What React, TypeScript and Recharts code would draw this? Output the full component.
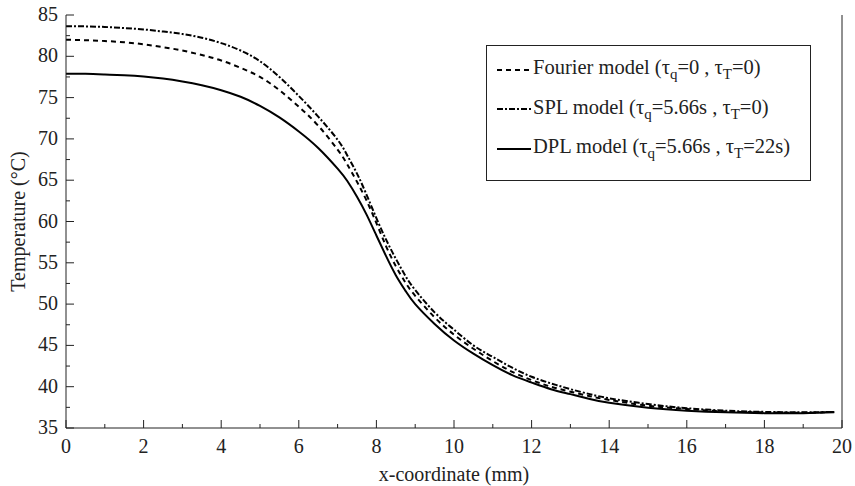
import React from "react"
import { LineChart, Line, XAxis, YAxis, Legend, Label } from "recharts"

// x positions (mm)
const xCoord = [0, 0.5, 1, 1.5, 2, 2.5, 3, 3.5, 4, 4.5, 5, 5.5, 6, 6.5, 7, 7.25, 7.5, 7.75, 8, 8.25, 8.5, 8.75, 9, 9.5, 10, 10.5, 11, 11.5, 12, 12.5, 13, 13.5, 14, 15, 16, 17, 18, 19, 19.8]

// temperatures (°C)
const fourierTemp = [82.0, 81.95, 81.85, 81.7, 81.45, 81.1, 80.7, 80.15, 79.5, 78.6, 77.5, 75.9, 73.9, 71.6, 68.7, 66.9, 64.8, 62.5, 59.8, 57.0, 54.6, 52.6, 51.0, 48.4, 46.3, 44.6, 43.1, 41.8, 40.8, 40.0, 39.4, 38.85, 38.4, 37.7, 37.3, 37.0, 36.9, 36.85, 36.95]
const splTemp = [83.65, 83.62, 83.55, 83.42, 83.25, 83.0, 82.7, 82.25, 81.6, 80.7, 79.4, 77.5, 75.2, 72.7, 69.9, 68.0, 65.8, 63.2, 60.4, 57.8, 55.5, 53.4, 51.7, 49.0, 46.9, 45.0, 43.6, 42.3, 41.2, 40.4, 39.7, 39.1, 38.6, 37.9, 37.4, 37.1, 36.95, 36.9, 36.95]
const dplTemp = [77.9, 77.88, 77.8, 77.7, 77.55, 77.3, 76.95, 76.5, 75.9, 75.1, 74.0, 72.6, 70.9, 68.9, 66.4, 64.9, 63.0, 60.8, 58.3, 55.8, 53.5, 51.6, 50.0, 47.6, 45.6, 44.0, 42.6, 41.4, 40.5, 39.7, 39.1, 38.5, 38.05, 37.45, 37.1, 36.9, 36.8, 36.8, 36.9]

const xTicks = [0, 1, 2, 3, 4, 5, 6, 7, 8, 9, 10, 11, 12, 13, 14, 15, 16, 17, 18, 19, 20]
const yTicks = [35, 37.5, 40, 42.5, 45, 47.5, 50, 52.5, 55, 57.5, 60, 62.5, 65, 67.5, 70, 72.5, 75, 77.5, 80, 82.5, 85]

const series = [
  { key: "fourier", label: "Fourier model", tauQ: "0", tauT: "0", dash: "5 4" },
  { key: "spl", label: "SPL model", tauQ: "5.66s", tauT: "0", dash: "6 2 2 2" },
  { key: "dpl", label: "DPL model", tauQ: "5.66s", tauT: "22s", dash: undefined },
]

const data = xCoord.map((x, i) => ({
  x,
  fourier: fourierTemp[i],
  spl: splTemp[i],
  dpl: dplTemp[i],
}))

const FONT = "'Liberation Serif', 'Times New Roman', serif"
const INK = "#222"
const txt = { fontFamily: FONT, fontSize: 20, fill: INK }

function BottomTick(props: any) {
  const { x, y, payload } = props
  const major = payload.value % 2 === 0
  return (
    <g>
      <line x1={x} x2={x} y1={y} y2={y - (major ? 8 : 4)} stroke={INK} />
      {major && (
        <text x={x} y={y + 25} textAnchor="middle" fontFamily={FONT} style={txt}>
          {payload.value}
        </text>
      )}
    </g>
  )
}

function TopTick(props: any) {
  const { x, y, payload } = props
  const major = payload.value % 2 === 0
  return <line x1={x} x2={x} y1={y} y2={y + (major ? 8 : 4)} stroke={INK} />
}

function LeftTick(props: any) {
  const { x, y, payload } = props
  const major = payload.value % 5 === 0
  return (
    <g>
      <line x1={x} x2={x + (major ? 8 : 4)} y1={y} y2={y} stroke={INK} />
      {major && (
        <text x={x - 8} y={y + 6} textAnchor="end" fontFamily={FONT} style={txt}>
          {payload.value}
        </text>
      )}
    </g>
  )
}

function RightTick(props: any) {
  const { x, y, payload } = props
  const major = payload.value % 5 === 0
  return <line x1={x} x2={x - (major ? 8 : 4)} y1={y} y2={y} stroke={INK} />
}

function ModelLegend() {
  return (
    <div
      style={{
        width: 323,
        height: 130,
        border: `1px solid ${INK}`,
        background: "#fff",
        fontFamily: FONT,
        fontSize: 20.5,
        color: INK,
        boxSizing: "content-box",
        paddingTop: 4,
      }}
    >
      {series.map((s) => (
        <div key={s.key} style={{ display: "flex", alignItems: "center", height: 39.5, paddingLeft: 10 }}>
          <svg width={34} height={6} style={{ marginRight: 2 }}>
            <line x1={0} x2={34} y1={3} y2={3} stroke="#000" strokeWidth={2} strokeDasharray={s.dash} />
          </svg>
          <span style={{ whiteSpace: "nowrap" }}>
            {s.label} (τ<sub style={{ fontSize: 15 }}>q</sub>={s.tauQ} , τ<sub style={{ fontSize: 15 }}>T</sub>={s.tauT})
          </span>
        </div>
      ))}
    </div>
  )
}

export default function App() {
  return (
    <div style={{ position: "absolute", left: 0, top: 0, background: "#fff" }}>
      <LineChart width={855} height={486} data={data} margin={{ top: 15, right: 12, bottom: 0, left: 0 }}>
        <XAxis
          xAxisId="bottom"
          dataKey="x"
          type="number"
          domain={[0, 20]}
          ticks={xTicks}
          interval={0}
          tickSize={0}
          tickMargin={0}
          tickLine={false}
          tick={<BottomTick />}
          height={58}
          axisLine={{ stroke: INK }}
        >
          <Label value="x-coordinate (mm)" position="insideBottom" offset={5} style={txt} />
        </XAxis>
        <XAxis
          xAxisId="top"
          orientation="top"
          dataKey="x"
          type="number"
          domain={[0, 20]}
          ticks={xTicks}
          interval={0}
          tickSize={0}
          tickMargin={0}
          tickLine={false}
          tick={<TopTick />}
          height={0}
          axisLine={{ stroke: INK }}
        />
        <YAxis
          yAxisId="left"
          type="number"
          domain={[35, 85]}
          ticks={yTicks}
          interval={0}
          tickSize={0}
          tickMargin={0}
          tickLine={false}
          tick={<LeftTick />}
          width={66}
          axisLine={{ stroke: INK }}
        >
          <Label value="Temperature (°C)" angle={-90} position="insideLeft" offset={18} style={{ ...txt, textAnchor: "middle" }} />
        </YAxis>
        <YAxis
          yAxisId="right"
          orientation="right"
          type="number"
          domain={[35, 85]}
          ticks={yTicks}
          interval={0}
          tickSize={0}
          tickMargin={0}
          tickLine={false}
          tick={<RightTick />}
          width={1}
          axisLine={{ stroke: INK }}
        />
        <Legend
          layout="vertical"
          align="center"
          verticalAlign="middle"
          content={() => <ModelLegend />}
          wrapperStyle={{ position: "absolute", left: 486, top: 45, width: "auto" }}
        />
        {series.map((s) => (
          <Line
            key={s.key}
            xAxisId="bottom"
            yAxisId="left"
            type="natural"
            dataKey={s.key}
            name={s.label}
            stroke="#000"
            strokeWidth={2}
            strokeDasharray={s.dash}
            dot={false}
            isAnimationActive={false}
          />
        ))}
      </LineChart>
    </div>
  )
}
